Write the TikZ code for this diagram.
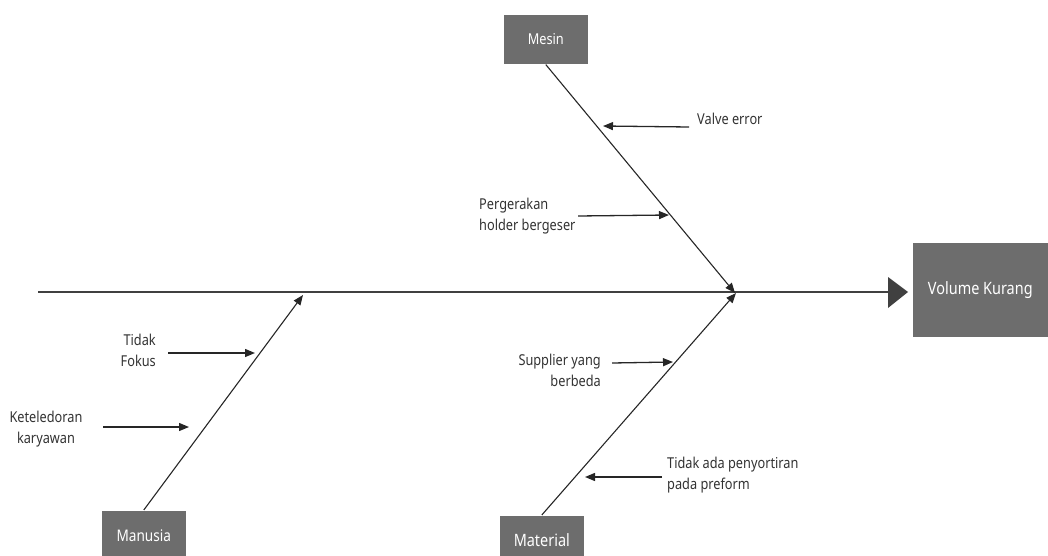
\documentclass[tikz,border=0pt]{standalone}
\usepackage{fontspec}
\setmainfont[FakeStretch=0.85]{Noto Sans}
\usetikzlibrary{arrows.meta}
\definecolor{boxgray}{HTML}{6D6D6D}
\definecolor{headgray}{HTML}{404040}
\begin{document}
\begin{tikzpicture}[x=1pt,y=-1pt,
  catbox/.style={fill=boxgray,draw=white,line width=0.6pt,text=white,font=\fontsize{15.5}{17}\selectfont,inner sep=0pt,anchor=north west},
  lbl/.style={font=\fontsize{15}{21}\selectfont,text=black!80,inner sep=0pt},
  bone/.style={line width=1.1pt,draw=black!85},
  sub/.style={line width=1.3pt,draw=black!85,-{Triangle[length=10pt,width=8pt]}}]
\useasboundingbox (0,0) rectangle (1048,556);
% main spine
\node[catbox,minimum width=136pt,minimum height=95pt,font=\fontsize{17}{19}\selectfont] (vk) at (912,242) {Volume Kurang};
\coordinate (tail) at (38,292);
\coordinate (headend) at (888,292);
\draw[line width=1.1pt,draw=black!75] (tail) -- (headend);
\fill[headgray] (888,277) -- (908,292) -- (888,308) -- cycle;
% category boxes
\node[catbox,minimum width=85pt,minimum height=50pt,font=\fontsize{15}{17}\selectfont] (mesin) at (503,14) {Mesin};
\node[catbox,minimum width=85pt,minimum height=50pt,font=\fontsize{16}{18}\selectfont] (manusia) at (101,510) {Manusia};
\node[catbox,minimum width=85pt,minimum height=50pt,font=\fontsize{17}{19}\selectfont] (material) at (499,515) {Material};
% bones
\coordinate (mjoin) at (735,293);
\coordinate (hjoin) at (303,295);
\coordinate (tjoin) at (736,293);
\draw[bone,-{Triangle[length=10pt,width=8pt]}] (mesin.south) -- (mjoin);
\draw[bone,-{Triangle[length=10pt,width=8pt]}] (manusia.north) -- (hjoin);
\draw[bone,-{Triangle[length=10pt,width=8pt]}] (material.north) -- (tjoin);
% causes
\node[lbl,anchor=west] (valve) at (697,119) {Valve error};
\coordinate (valvetip) at (603,126);
\draw[sub] (689,127) -- (valvetip);
\node[lbl,anchor=west,align=left] (perg) at (479,216) {Pergerakan\\holder bergeser};
\coordinate (pergtip) at (669,215);
\draw[sub] (578,216) -- (pergtip);
\node[lbl,anchor=east,align=right] (fokus) at (156,350) {Tidak\\Fokus};
\coordinate (fokustip) at (255,353);
\draw[sub] (168,353) -- (fokustip);
\node[lbl,anchor=center,align=center] (ket) at (46,429) {Keteledoran\\karyawan};
\coordinate (kettip) at (189,427);
\draw[sub] (103,427) -- (kettip);
\node[lbl,anchor=east,align=right] (supp) at (601,370) {Supplier yang\\berbeda};
\coordinate (supptip) at (673,362);
\draw[sub] (612,363) -- (supptip);
\node[lbl,anchor=west,align=left] (sort) at (667,475) {Tidak ada penyortiran\\pada preform};
\coordinate (sorttip) at (585,477);
\draw[sub] (662,477) -- (sorttip);
\end{tikzpicture}
\end{document}
